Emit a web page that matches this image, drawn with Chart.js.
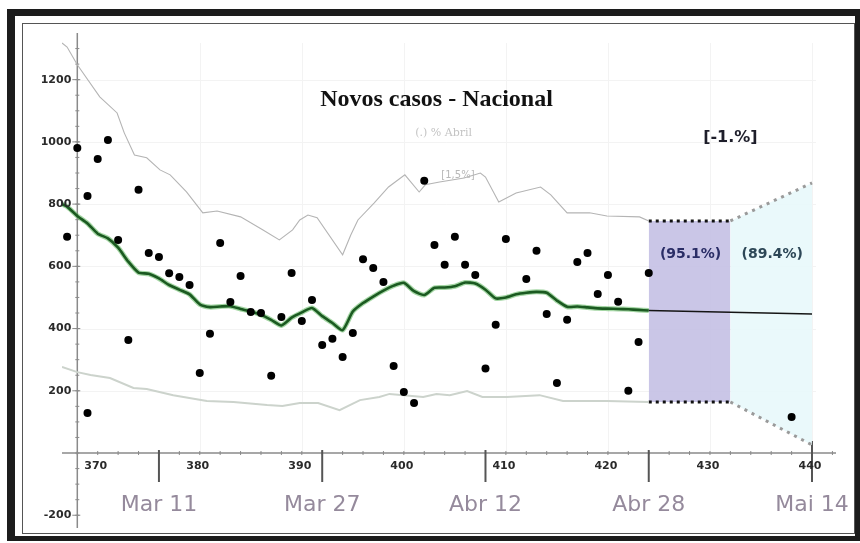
<!DOCTYPE html>
<html lang="pt">
<head>
<meta charset="UTF-8">
<title>Novos casos - Nacional</title>
<script src="https://cdn.jsdelivr.net/npm/chart.js"></script>
<style>
  body { margin: 0; background: #fff; }
  .frame-out {
    position: absolute; left: 7px; top: 9px; width: 840px; height: 520px;
    border: 5px solid #1c1c1c; border-left-width: 8px; border-top-width: 7px;
  }
  .frame-in {
    position: absolute; left: 22px; top: 23px; width: 831px; height: 509px;
    border: 1px solid #555;
  }
  .wrap { position: absolute; left: 0; top: 0; width: 860px; height: 543px; }
</style>
</head>
<body>
<div class="frame-out"></div>
<div class="frame-in"></div>
<div class="wrap"><canvas id="casos"></canvas></div>

<script>
// casos diarios (dia corrido desde o inicio da serie)
const dotDays  = [367, 368, 369, 369, 370, 371, 372, 373, 374, 375, 376, 377, 378, 379, 380, 381, 382, 383, 384,
                  385, 386, 387, 388, 389, 390, 391, 392, 393, 394, 395, 396, 397, 398, 399, 400, 401, 402, 403,
                  404, 405, 406, 407, 408, 409, 410, 412, 413, 414, 415, 416, 417, 418, 419, 420, 421, 422, 423,
                  424, 438];
const dotCases = [695, 980, 826, 129, 945, 1006, 685, 363, 846, 643, 630, 578, 566, 540, 257, 383, 675, 485, 569,
                  453, 450, 248, 437, 579, 424, 492, 347, 367, 309, 386, 623, 595, 550, 280, 196, 161, 875, 669,
                  605, 695, 605, 572, 272, 412, 688, 559, 650, 447, 225, 428, 614, 643, 511, 572, 486, 200, 357,
                  579, 116];

// media movel
const avgDays  = [366.5, 367, 368, 369, 370, 371, 372, 373, 374, 375, 376, 377, 378, 379, 380, 381, 382, 383, 384,
                  385, 386, 387, 388, 389, 390, 391, 392, 393, 394, 395, 396, 397, 398, 399, 400, 401, 402, 403,
                  404, 405, 406, 407, 408, 409, 410, 411, 412, 413, 414, 415, 416, 417, 418, 419, 420, 421, 422,
                  423, 424];
const avgCases = [800, 792, 762, 738, 705, 690, 660, 615, 580, 576, 561, 540, 525, 510, 478, 469, 471, 472, 463,
                  455, 444, 428, 410, 435, 452, 466, 440, 418, 395, 455, 482, 503, 522, 538, 547, 520, 508, 531,
                  532, 536, 548, 545, 525, 497, 500, 510, 515, 518, 515, 490, 470, 471, 468, 465, 464, 463, 462,
                  460, 458];

// faixa superior e inferior
const upperDays  = [366.5, 367, 368, 370.2, 371.9, 372.6, 373.6, 374.8, 376.1, 377.1, 378.7, 380.3, 381.7, 384,
                    386.2, 387.8, 389.1, 389.8, 390.6, 391.5, 394, 394.8, 395.5, 397.1, 398.5, 400.1, 401.5, 402.1,
                    403.5, 405.9, 407.5, 408, 409.3, 411, 413.4, 414.4, 416, 418.2, 419.9, 423.1, 424];
const upperCases = [1318, 1305, 1248, 1145, 1093, 1029, 958, 949, 910, 894, 839, 772, 778, 759,
                    717, 685, 717, 749, 765, 756, 637, 701, 749, 804, 855, 894, 839, 862,
                    871, 884, 900, 887, 807, 836, 855, 830, 772, 772, 762, 759, 746];
const lowerDays  = [366.5, 368, 369.3, 371.2, 373.5, 374.8, 377.4, 380.7, 383.3, 386.6, 388.1, 389.8, 391.6, 393.7,
                    395.7, 397.6, 398.6, 401.9, 403.2, 404.5, 406.2, 407.7, 410.1, 413.3, 415.6, 419.9, 424];
const lowerCases = [277, 260, 251, 241, 209, 206, 186, 167, 164, 154, 151, 161, 161, 138,
                    170, 180, 190, 180, 190, 186, 199, 180, 180, 186, 167, 167, 164];

// projecao
const trendDays  = [424, 440];
const trendCases = [458, 447];
const bandDays   = [424, 432];
const bandHigh   = [746, 746];
const bandLow    = [164, 164];
const outDays    = [432, 440];
const outHigh    = [746, 868];
const outLow     = [164, 26];

// eixos
const dayTicks   = [370, 380, 390, 400, 410, 420, 430, 440];
const caseTicks  = [-200, 200, 400, 600, 800, 1000, 1200];
const dateTicks  = [376, 392, 408, 424, 440];
const dateLabels = ['Mar 11', 'Mar 27', 'Abr 12', 'Abr 28', 'Mai 14'];
const axisDay = 368;

const notes = [
  { text: 'Novos casos - Nacional', day: 403.2, cases: 1135, font: 'bold 24px "Liberation Serif"', color: '#111' },
  { text: '(.) % Abril', day: 403.9, cases: 1029, font: '11px "DejaVu Serif"', color: '#c4c4c4' },
  { text: '[1,5%]', day: 405.3, cases: 891, font: '10px "DejaVu Sans"', color: '#b8b8b8' },
  { text: '[-1.%]', day: 432, cases: 1013, font: 'bold 16px "DejaVu Sans"', color: '#1e1e2a' },
  { text: '(95.1%)', day: 428.1, cases: 640, font: 'bold 14px "DejaVu Sans"', color: '#2a2d66' },
  { text: '(89.4%)', day: 436.1, cases: 640, font: 'bold 14px "DejaVu Sans"', color: '#2d4757' }
];

const pts = (xs, ys) => xs.map((x, i) => ({ x: x, y: ys[i] }));

function seg(ctx, x1, y1, x2, y2) {
  ctx.beginPath(); ctx.moveTo(x1, y1); ctx.lineTo(x2, y2); ctx.stroke();
}

const mathAxes = {
  id: 'mathAxes',
  beforeDatasetsDraw(chart) {
    const { ctx, scales: { x, y } } = chart;
    const ax = x.getPixelForValue(axisDay);
    const ay = y.getPixelForValue(0);
    ctx.save();
    ctx.strokeStyle = '#f3f3f3';
    ctx.lineWidth = 1;
    dayTicks.slice(1).forEach(d => {
      const px = Math.round(x.getPixelForValue(d)) + 0.5;
      seg(ctx, px, y.top + 10, px, ay);
    });
    caseTicks.filter(v => v > 0).forEach(v => {
      const py = Math.round(y.getPixelForValue(v)) + 0.5;
      seg(ctx, ax, py, x.right - 20, py);
    });

    ctx.strokeStyle = '#8a8a8a';
    ctx.lineWidth = 1.5;
    seg(ctx, ax, y.top, ax, y.bottom);
    seg(ctx, x.left, ay, x.right, ay);

    ctx.lineWidth = 1;
    for (let d = 368; d <= 442; d += 2) {
      const px = x.getPixelForValue(d);
      seg(ctx, px, ay - 2, px, ay + 2);
    }
    for (let v = -200; v <= 1300; v += 50) {
      const py = y.getPixelForValue(v);
      seg(ctx, ax - 2, py, ax + 2, py);
    }
    caseTicks.forEach(v => {
      const py = y.getPixelForValue(v);
      seg(ctx, ax - 5, py, ax + 3, py);
    });

    ctx.strokeStyle = '#555';
    ctx.lineWidth = 2;
    dateTicks.forEach((d, i) => {
      const px = x.getPixelForValue(d);
      seg(ctx, px, ay - (i === dateTicks.length - 1 ? 12 : 3), px, ay + 29);
    });
    ctx.restore();
  },
  afterDatasetsDraw(chart) {
    const { ctx, scales: { x, y } } = chart;
    const ax = x.getPixelForValue(axisDay);
    const ay = y.getPixelForValue(0);
    ctx.save();
    ctx.fillStyle = '#2a2a2a';
    ctx.font = 'bold 11px "DejaVu Sans"';
    ctx.textAlign = 'right';
    ctx.textBaseline = 'middle';
    caseTicks.forEach(v => ctx.fillText(String(v), ax - 6, y.getPixelForValue(v)));

    ctx.textAlign = 'center';
    dayTicks.forEach(d => ctx.fillText(String(d), x.getPixelForValue(d) - 2, ay + 13));

    ctx.fillStyle = '#958a9c';
    ctx.font = '22px "DejaVu Sans"';
    dateTicks.forEach((d, i) => ctx.fillText(dateLabels[i], x.getPixelForValue(d), ay + 52));

    notes.forEach(n => {
      ctx.font = n.font;
      ctx.fillStyle = n.color;
      ctx.fillText(n.text, x.getPixelForValue(n.day), y.getPixelForValue(n.cases));
    });
    ctx.restore();
  }
};

new Chart(document.getElementById('casos'), {
  type: 'line',
  data: {
    datasets: [
      { data: pts(dotDays, dotCases), showLine: false, pointRadius: 4, pointBackgroundColor: '#000',
        pointBorderWidth: 0 },
      { data: pts(trendDays, trendCases), borderColor: '#151515', borderWidth: 1.6, pointRadius: 0 },
      { data: pts(avgDays, avgCases), borderColor: '#1b5a21', borderWidth: 2.6, pointRadius: 0,
        tension: 0.2 },
      { data: pts(avgDays, avgCases), borderColor: 'rgba(90,180,90,0.55)', borderWidth: 5, pointRadius: 0,
        tension: 0.2 },
      { data: pts(upperDays, upperCases), borderColor: '#b4b4b4', borderWidth: 1.1, pointRadius: 0 },
      { data: pts(lowerDays, lowerCases), borderColor: '#ccd3cc', borderWidth: 2, pointRadius: 0 },
      { data: pts(bandDays, bandHigh), borderColor: '#111', borderWidth: 3, borderDash: [3, 4],
        pointRadius: 0 },
      { data: pts(bandDays, bandLow), borderColor: '#111', borderWidth: 3, borderDash: [3, 4],
        pointRadius: 0 },
      { data: pts(outDays, outHigh), borderColor: '#9a9a9a', borderWidth: 3, borderDash: [3, 5],
        pointRadius: 0 },
      { data: pts(outDays, outLow), borderColor: '#9a9a9a', borderWidth: 3, borderDash: [3, 5],
        pointRadius: 0 },
      { data: pts(bandDays, bandHigh), borderWidth: 0, pointRadius: 0, fill: '+1',
        backgroundColor: 'rgba(196,192,228,0.9)' },
      { data: pts(bandDays, bandLow), borderWidth: 0, pointRadius: 0 },
      { data: pts(outDays, outHigh), borderWidth: 0, pointRadius: 0, fill: '+1',
        backgroundColor: 'rgba(232,248,251,0.9)' },
      { data: pts(outDays, outLow), borderWidth: 0, pointRadius: 0 }
    ]
  },
  options: {
    responsive: true,
    maintainAspectRatio: false,
    animation: false,
    layout: { padding: { left: 62, right: 24, top: 33, bottom: 15 } },
    scales: {
      x: { type: 'linear', min: 366.5, max: 442.35, display: false },
      y: { min: -241, max: 1350, display: false }
    },
    plugins: { legend: { display: false }, tooltip: { enabled: false } }
  },
  plugins: [mathAxes]
});
</script>
</body>
</html>
